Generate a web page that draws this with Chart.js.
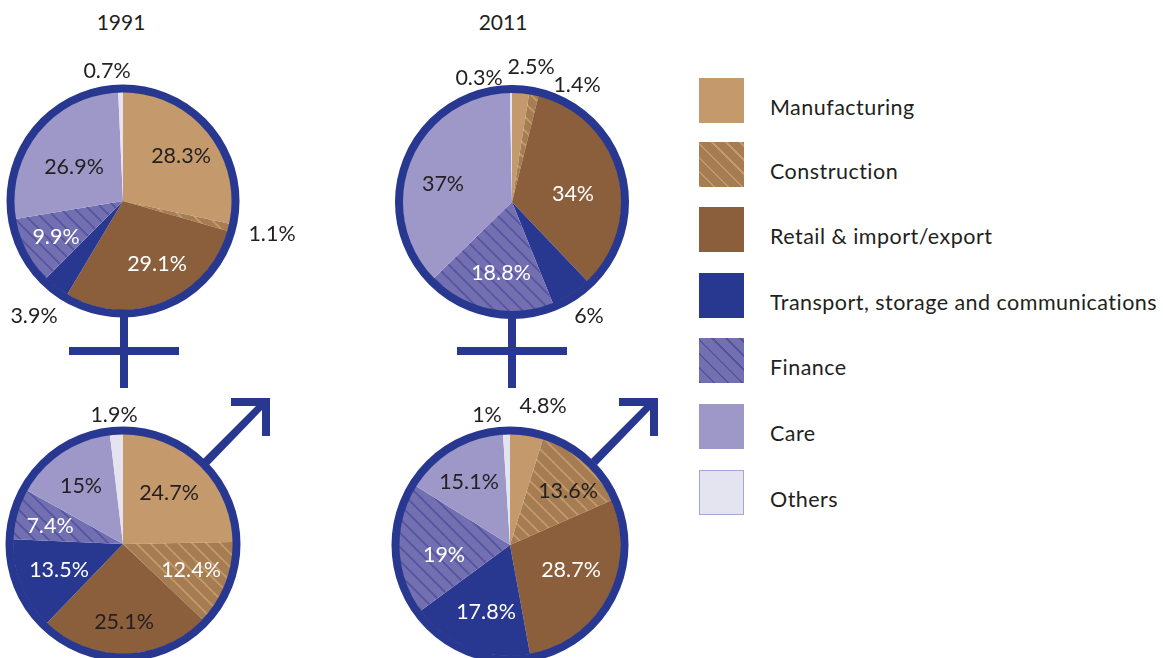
<!DOCTYPE html>
<html>
<head>
<meta charset="utf-8">
<title>Employment by sector, 1991 and 2011</title>
<script src="https://cdn.jsdelivr.net/npm/chart.js@4"></script>
<style>
  html, body { margin:0; padding:0; background:#fff; }
  body { width:1163px; height:658px; overflow:hidden; position:relative; font-family:Lato, sans-serif; color:#231f20; }
  canvas { position:absolute; }
  #symbols { position:absolute; left:0; top:0; }
  .year { position:absolute; top:9px; font-size:21px; width:100px; text-align:center; }
  .swatch { position:absolute; left:699px; width:45px; height:45px; box-sizing:border-box; }
  .leg { position:absolute; left:770px; font-size:21.5px; line-height:26px; white-space:nowrap; letter-spacing:.47px; }
</style>
</head>
<body>
<svg id="symbols" width="1163" height="658" fill="#283891">
  <!-- female: stem + bar -->
  <rect x="120" y="310" width="8" height="78"/><rect x="69" y="347" width="110" height="8"/>
  <rect x="508" y="310" width="8" height="78"/><rect x="457" y="347" width="110" height="8"/>
  <!-- male: arrow -->
  <path id="arrow" d="M231 398H270V436H262V410L209 465L203 459L256 406H231Z"/>
  <use href="#arrow" x="388"/>
</svg>
<div class="year" style="left:71px">1991</div>
<div class="year" style="left:453px">2011</div>
<div id="legend"></div>

<script>
const categories = ['Manufacturing', 'Construction', 'Retail & import/export', 'Transport, storage and communications', 'Finance', 'Care', 'Others'];

const female1991 = [28.3, 1.1, 29.1, 3.9, 9.9, 26.9, 0.7];
const female2011 = [2.5, 1.4, 34, 6, 18.8, 37, 0.3];
const male1991   = [24.7, 12.4, 25.1, 13.5, 7.4, 15, 1.9];
const male2011   = [4.8, 13.6, 28.7, 17.8, 19, 15.1, 1];

// label offsets from the pie centre, same order as categories
const posF91 = [[58,-45],[149,33],[34,63],[-89,115],[-67,36],[-49,-34],[-16,-130]];
const posF11 = [[19,-135],[65,-117],[61,-8],[77,114],[-11,71],[-69,-18],[-33,-124]];
const posM91 = [[46,-51],[68,26],[1,78],[-64,26],[-73,-18],[-42,-58],[-9,-129]];
const posM11 = [[33,-139],[58,-54],[61,25],[-24,67],[-66,10],[-41,-63],[-23,-130]];

const DARK = '#231f20', WHITE = '#ffffff';
const colF91 = [DARK, DARK, WHITE, DARK, WHITE, DARK, DARK];
const colF11 = [DARK, DARK, WHITE, DARK, WHITE, DARK, DARK];
const colM91 = [DARK, WHITE, DARK, WHITE, WHITE, DARK, DARK];
const colM11 = [DARK, DARK, WHITE, WHITE, WHITE, DARK, DARK];

const NAVY = '#283891';
const CANVAS = 400, RING_W = 8;

function hatch(base, line) {
  const c = document.createElement('canvas');
  c.width = c.height = 14;
  const g = c.getContext('2d');
  g.fillStyle = base;
  g.fillRect(0, 0, 14, 14);
  g.strokeStyle = line;
  g.lineWidth = 1.8;
  g.beginPath();
  g.moveTo(-2, -2); g.lineTo(16, 16);
  g.moveTo(12, -2); g.lineTo(16, 2);
  g.moveTo(-2, 12); g.lineTo(2, 16);
  g.stroke();
  return g.createPattern(c, 'repeat');
}

const fills = [
  '#c49a6c',
  hatch('#a67c52', '#c49a6c'),
  '#8b5e3c',
  NAVY,
  hatch('#7270b0', '#5654a2'),
  '#9d98c8',
  '#e4e3f0'
];

// ring and value labels, drawn after the slices
const pieDecor = {
  id: 'pieDecor',
  afterDatasetsDraw(chart, args, opts) {
    const { ctx } = chart;
    const arc = chart.getDatasetMeta(0).data[0];
    const cx = arc.x, cy = arc.y;
    ctx.save();
    ctx.strokeStyle = NAVY;
    ctx.lineWidth = RING_W;
    ctx.beginPath();
    ctx.arc(cx, cy, arc.outerRadius + RING_W / 2 - .5, 0, Math.PI * 2);
    ctx.stroke();
    ctx.font = '21.5px Lato, sans-serif';
    ctx.textAlign = 'center';
    ctx.textBaseline = 'middle';
    chart.data.datasets[0].data.forEach((v, i) => {
      ctx.fillStyle = opts.colors[i];
      ctx.fillText(v + '%', cx + opts.pos[i][0], cy + opts.pos[i][1]);
    });
    ctx.restore();
  }
};

function drawPie(values, cx, cy, radius, pos, colors) {
  const cv = document.createElement('canvas');
  cv.width = cv.height = CANVAS;
  cv.style.left = (cx - CANVAS / 2) + 'px';
  cv.style.top = (cy - CANVAS / 2) + 'px';
  document.body.appendChild(cv);
  new Chart(cv.getContext('2d'), {
    type: 'pie',
    data: {
      labels: categories,
      datasets: [{ data: values, backgroundColor: fills, borderWidth: 0 }]
    },
    options: {
      responsive: false,
      animation: false,
      radius,
      plugins: {
        legend: { display: false },
        tooltip: { enabled: false },
        pieDecor: { pos, colors }
      }
    },
    plugins: [pieDecor]
  });
}

drawPie(female1991, 123, 201, 109, posF91, colF91);
drawPie(female2011, 512, 202, 109.5, posF11, colF11);
drawPie(male1991, 123, 544, 110, posM91, colM91);
drawPie(male2011, 510, 545, 111, posM11, colM11);

// legend
const swatchTops = [78, 142, 207, 273, 338, 404, 470];
const swatchCss = [
  'background:#c49a6c',
  'background:repeating-linear-gradient(45deg,#c49a6c 0 1.8px,#a67c52 1.8px 10px)',
  'background:#8b5e3c',
  'background:' + NAVY,
  'background:repeating-linear-gradient(45deg,#5654a2 0 1.8px,#7270b0 1.8px 10px)',
  'background:#9d98c8',
  'background:#e4e3f0;border:1.5px solid #a9a4d6'
];
const legendEl = document.getElementById('legend');
categories.forEach((name, i) => {
  legendEl.insertAdjacentHTML('beforeend',
    `<div class="swatch" style="top:${swatchTops[i]}px;${swatchCss[i]}"></div>` +
    `<div class="leg" style="top:${swatchTops[i] + 16}px">${name}</div>`);
});
</script>
</body>
</html>
